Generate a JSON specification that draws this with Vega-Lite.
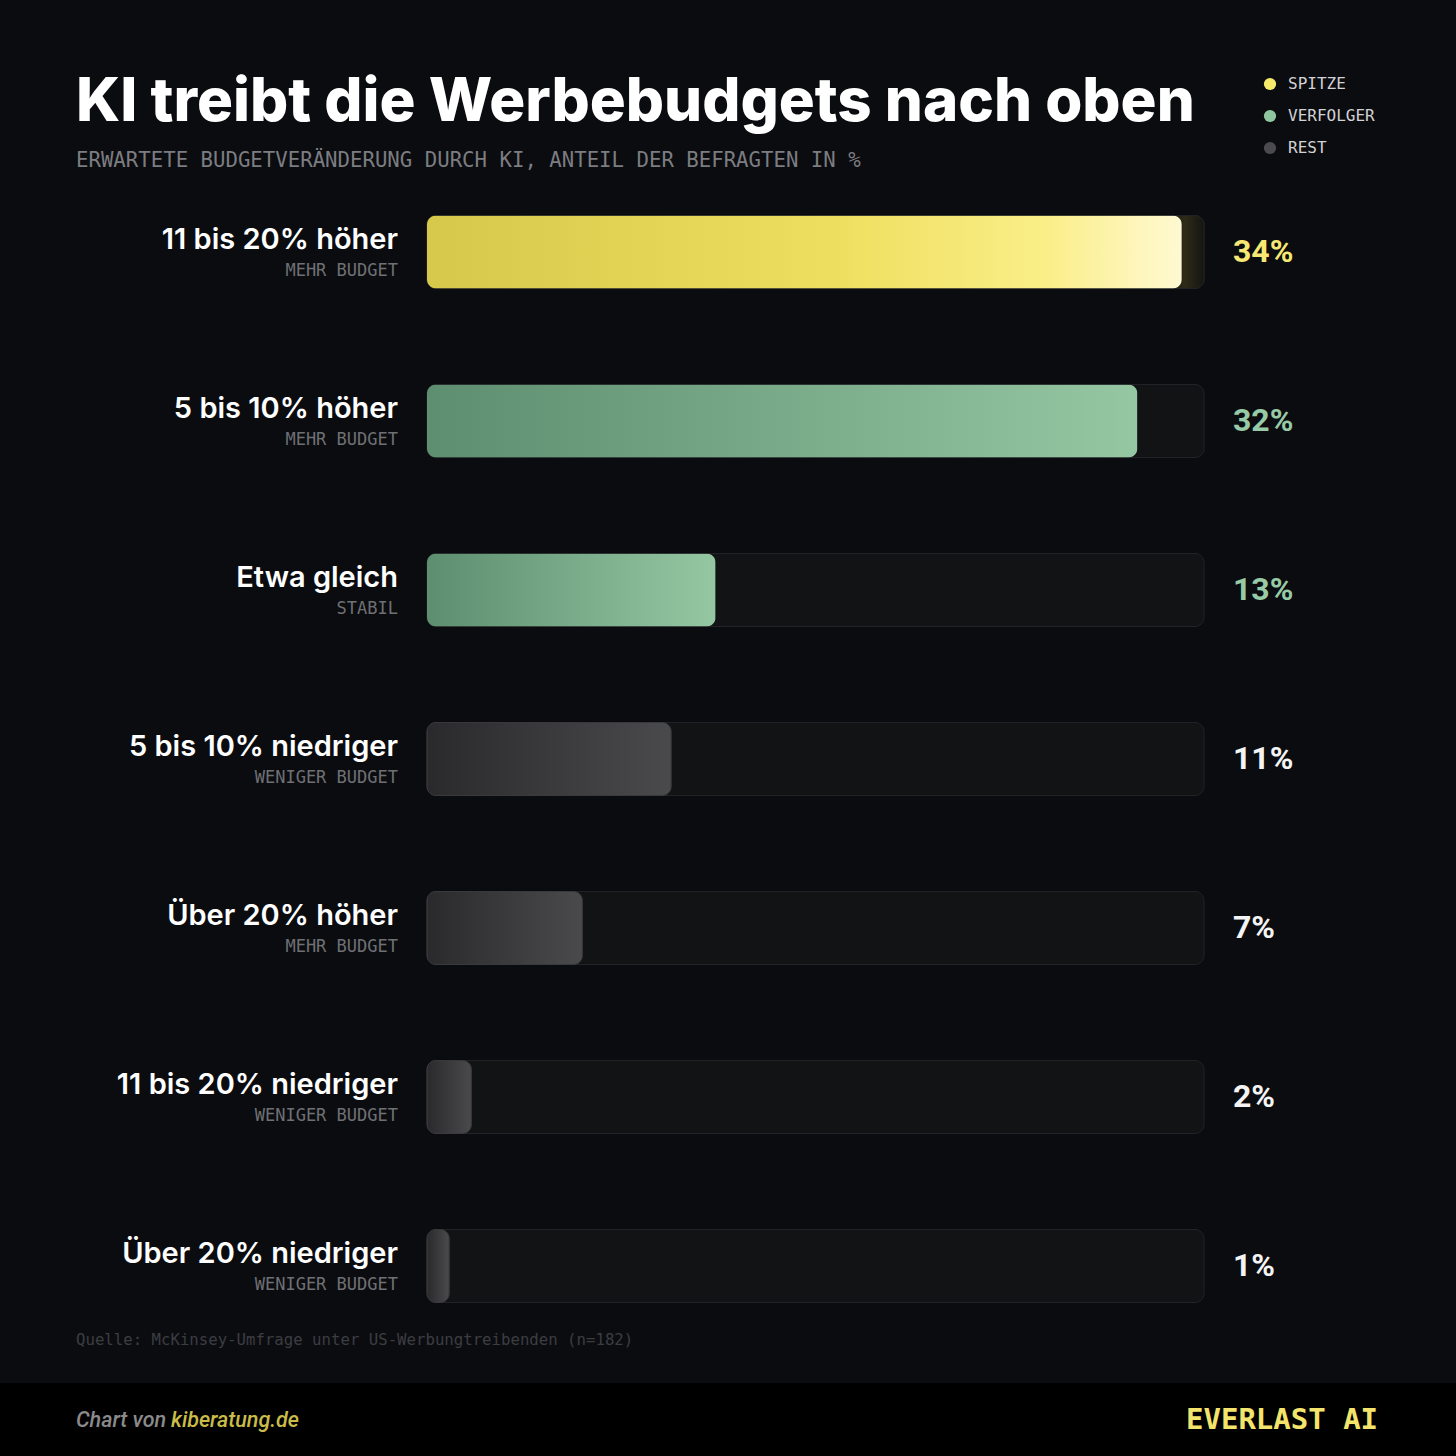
{
  "$schema": "https://vega.github.io/schema/vega-lite/v6.json",
  "autosize": "none",
  "width": 1456,
  "height": 1266,
  "padding": {"top": 190, "left": 0, "right": 0, "bottom": 0},
  "background": "#0b0c10",
  "config": {"view": {"stroke": null}},
  "title": {
    "text": "KI treibt die Werbebudgets nach oben",
    "subtitle": "ERWARTETE BUDGETVERÄNDERUNG DURCH KI, ANTEIL DER BEFRAGTEN IN %",
    "anchor": "start",
    "frame": "group",
    "dx": 76,
    "offset": -96,
    "font": "Inter",
    "fontSize": 60,
    "fontWeight": 800,
    "color": "#ffffff",
    "subtitleFont": "DejaVu Sans Mono",
    "subtitleFontSize": 20.7,
    "subtitleColor": "#7c7d81",
    "subtitlePadding": 17
  },
  "data": {
    "values": [
      {"label": "11 bis 20% höher", "sub": "MEHR BUDGET", "value": 34, "group": "SPITZE"},
      {"label": "5 bis 10% höher", "sub": "MEHR BUDGET", "value": 32, "group": "VERFOLGER"},
      {"label": "Etwa gleich", "sub": "STABIL", "value": 13, "group": "VERFOLGER"},
      {"label": "5 bis 10% niedriger", "sub": "WENIGER BUDGET", "value": 11, "group": "REST"},
      {"label": "Über 20% höher", "sub": "MEHR BUDGET", "value": 7, "group": "REST"},
      {"label": "11 bis 20% niedriger", "sub": "WENIGER BUDGET", "value": 2, "group": "REST"},
      {"label": "Über 20% niedriger", "sub": "WENIGER BUDGET", "value": 1, "group": "REST"}
    ]
  },
  "encoding": {
    "y": {
      "field": "label",
      "type": "nominal",
      "sort": null,
      "scale": {"range": [-22.5, 1160.5], "paddingInner": 0.568, "paddingOuter": 0.284},
      "axis": null
    }
  },
  "layer": [
    {
      "mark": {"type": "bar", "fill": "#121315", "stroke": "#222327", "strokeWidth": 1, "cornerRadius": 9},
      "encoding": {
        "x": {"datum": 35, "type": "quantitative", "scale": {"domain": [0, 35], "range": [427, 1204]}, "axis": null}
      }
    },
    {
      "transform": [{"filter": "datum.group === 'SPITZE'"}],
      "mark": {
        "type": "bar",
        "stroke": "#222327",
        "strokeWidth": 1,
        "cornerRadius": 9,
        "color": {
          "gradient": "linear", "x1": 0, "y1": 0, "x2": 1, "y2": 0,
          "stops": [
            {"offset": 0, "color": "#121315"},
            {"offset": 0.955, "color": "#17171a"},
            {"offset": 0.975, "color": "#2e2b17"},
            {"offset": 1, "color": "#151512"}
          ]
        }
      },
      "encoding": {
        "x": {"datum": 35, "type": "quantitative"}
      }
    },
    {
      "transform": [{"filter": "datum.group === 'SPITZE'"}],
      "mark": {
        "type": "bar",
        "cornerRadius": 9,
        "color": {
          "gradient": "linear", "x1": 0, "y1": 0, "x2": 1, "y2": 0,
          "stops": [
            {"offset": 0, "color": "#d6c84b"},
            {"offset": 0.55, "color": "#efdf60"},
            {"offset": 0.82, "color": "#faee88"},
            {"offset": 1, "color": "#fff9d2"}
          ]
        }
      },
      "encoding": {
        "x": {"field": "value", "type": "quantitative"}
      }
    },
    {
      "transform": [{"filter": "datum.group === 'VERFOLGER'"}],
      "mark": {
        "type": "bar",
        "cornerRadius": 9,
        "color": {
          "gradient": "linear", "x1": 0, "y1": 0, "x2": 1, "y2": 0,
          "stops": [
            {"offset": 0, "color": "#5d8e6f"},
            {"offset": 1, "color": "#95c7a3"}
          ]
        }
      },
      "encoding": {
        "x": {"field": "value", "type": "quantitative"}
      }
    },
    {
      "transform": [{"filter": "datum.group === 'REST'"}],
      "mark": {
        "type": "bar",
        "cornerRadius": 9,
        "stroke": "#3a3a3d",
        "strokeWidth": 1,
        "color": {
          "gradient": "linear", "x1": 0, "y1": 0, "x2": 1, "y2": 0,
          "stops": [
            {"offset": 0, "color": "#2a2a2c"},
            {"offset": 1, "color": "#4a4a4d"}
          ]
        }
      },
      "encoding": {
        "x": {"field": "value", "type": "quantitative"}
      }
    },
    {
      "mark": {"type": "circle", "opacity": 0, "size": 10},
      "encoding": {
        "x": {"datum": 0, "type": "quantitative"},
        "color": {
          "field": "group",
          "type": "nominal",
          "scale": {"domain": ["SPITZE", "VERFOLGER", "REST"], "range": ["#f7e96a", "#8fc6a0", "#4a4a4f"]},
          "legend": {
            "title": null,
            "orient": "none",
            "legendX": 1262,
            "legendY": -114,
            "symbolType": "circle",
            "symbolSize": 150,
            "symbolOpacity": 1,
            "labelFont": "DejaVu Sans Mono",
            "labelFontSize": 16,
            "labelColor": "#d2d2d4",
            "labelOffset": 10,
            "rowPadding": 16
          }
        }
      }
    },
    {
      "mark": {"type": "text", "align": "right", "baseline": "alphabetic", "dx": -29, "dy": -3, "font": "Inter", "fontSize": 29, "fontWeight": 600, "color": "#ffffff"},
      "encoding": {
        "x": {"datum": 0, "type": "quantitative"},
        "text": {"field": "label"}
      }
    },
    {
      "mark": {"type": "text", "align": "right", "baseline": "alphabetic", "dx": -29, "dy": 24, "font": "DejaVu Sans Mono", "fontSize": 17, "color": "#6f7074"},
      "encoding": {
        "x": {"datum": 0, "type": "quantitative"},
        "text": {"field": "sub"}
      }
    },
    {
      "transform": [{"filter": "datum.group === 'SPITZE'"}],
      "mark": {"type": "text", "align": "left", "baseline": "middle", "dx": 29, "font": "Roboto", "fontSize": 32, "fontWeight": "bold", "color": "#f6e872", "text": {"expr": "datum.value + '%'"}},
      "encoding": {
        "x": {"datum": 35, "type": "quantitative"}
      }
    },
    {
      "transform": [{"filter": "datum.group === 'VERFOLGER'"}],
      "mark": {"type": "text", "align": "left", "baseline": "middle", "dx": 29, "font": "Roboto", "fontSize": 32, "fontWeight": "bold", "color": "#97caa6", "text": {"expr": "datum.value + '%'"}},
      "encoding": {
        "x": {"datum": 35, "type": "quantitative"}
      }
    },
    {
      "transform": [{"filter": "datum.group === 'REST'"}],
      "mark": {"type": "text", "align": "left", "baseline": "middle", "dx": 29, "font": "Roboto", "fontSize": 32, "fontWeight": "bold", "color": "#f4f4f4", "text": {"expr": "datum.value + '%'"}},
      "encoding": {
        "x": {"datum": 35, "type": "quantitative"}
      }
    },
    {
      "data": {"values": [{"note": "Quelle: McKinsey-Umfrage unter US-Werbungtreibenden (n=182)"}]},
      "mark": {"type": "text", "align": "left", "baseline": "middle", "font": "DejaVu Sans Mono", "fontSize": 15.7, "color": "#3c3d42"},
      "encoding": {
        "x": {"value": 76},
        "y": {"value": 1150},
        "text": {"field": "note"}
      }
    },
    {
      "data": {"values": [{"band": "footer"}]},
      "mark": {"type": "rect", "fill": "#000000"},
      "encoding": {
        "x": {"value": 0},
        "x2": {"value": 1456},
        "y": {"value": 1193},
        "y2": {"value": 1266}
      }
    },
    {
      "data": {"values": [{"credit": "Chart von"}]},
      "mark": {"type": "text", "align": "left", "baseline": "middle", "font": "Roboto", "fontStyle": "italic", "fontWeight": 500, "fontSize": 21.5, "color": "#8a8a8c"},
      "encoding": {
        "x": {"value": 76},
        "y": {"value": 1231},
        "text": {"field": "credit"}
      }
    },
    {
      "data": {"values": [{"site": "kiberatung.de"}]},
      "mark": {"type": "text", "align": "left", "baseline": "middle", "font": "Roboto", "fontStyle": "italic", "fontWeight": 500, "fontSize": 21.5, "color": "#c9bc48"},
      "encoding": {
        "x": {"value": 171},
        "y": {"value": 1231},
        "text": {"field": "site"}
      }
    },
    {
      "data": {"values": [{"brand": "EVERLAST AI"}]},
      "mark": {"type": "text", "align": "left", "baseline": "middle", "font": "DejaVu Sans Mono", "fontWeight": "bold", "fontSize": 29, "color": "#f4e46c"},
      "encoding": {
        "x": {"value": 1186},
        "y": {"value": 1230},
        "text": {"field": "brand"}
      }
    }
  ]
}
